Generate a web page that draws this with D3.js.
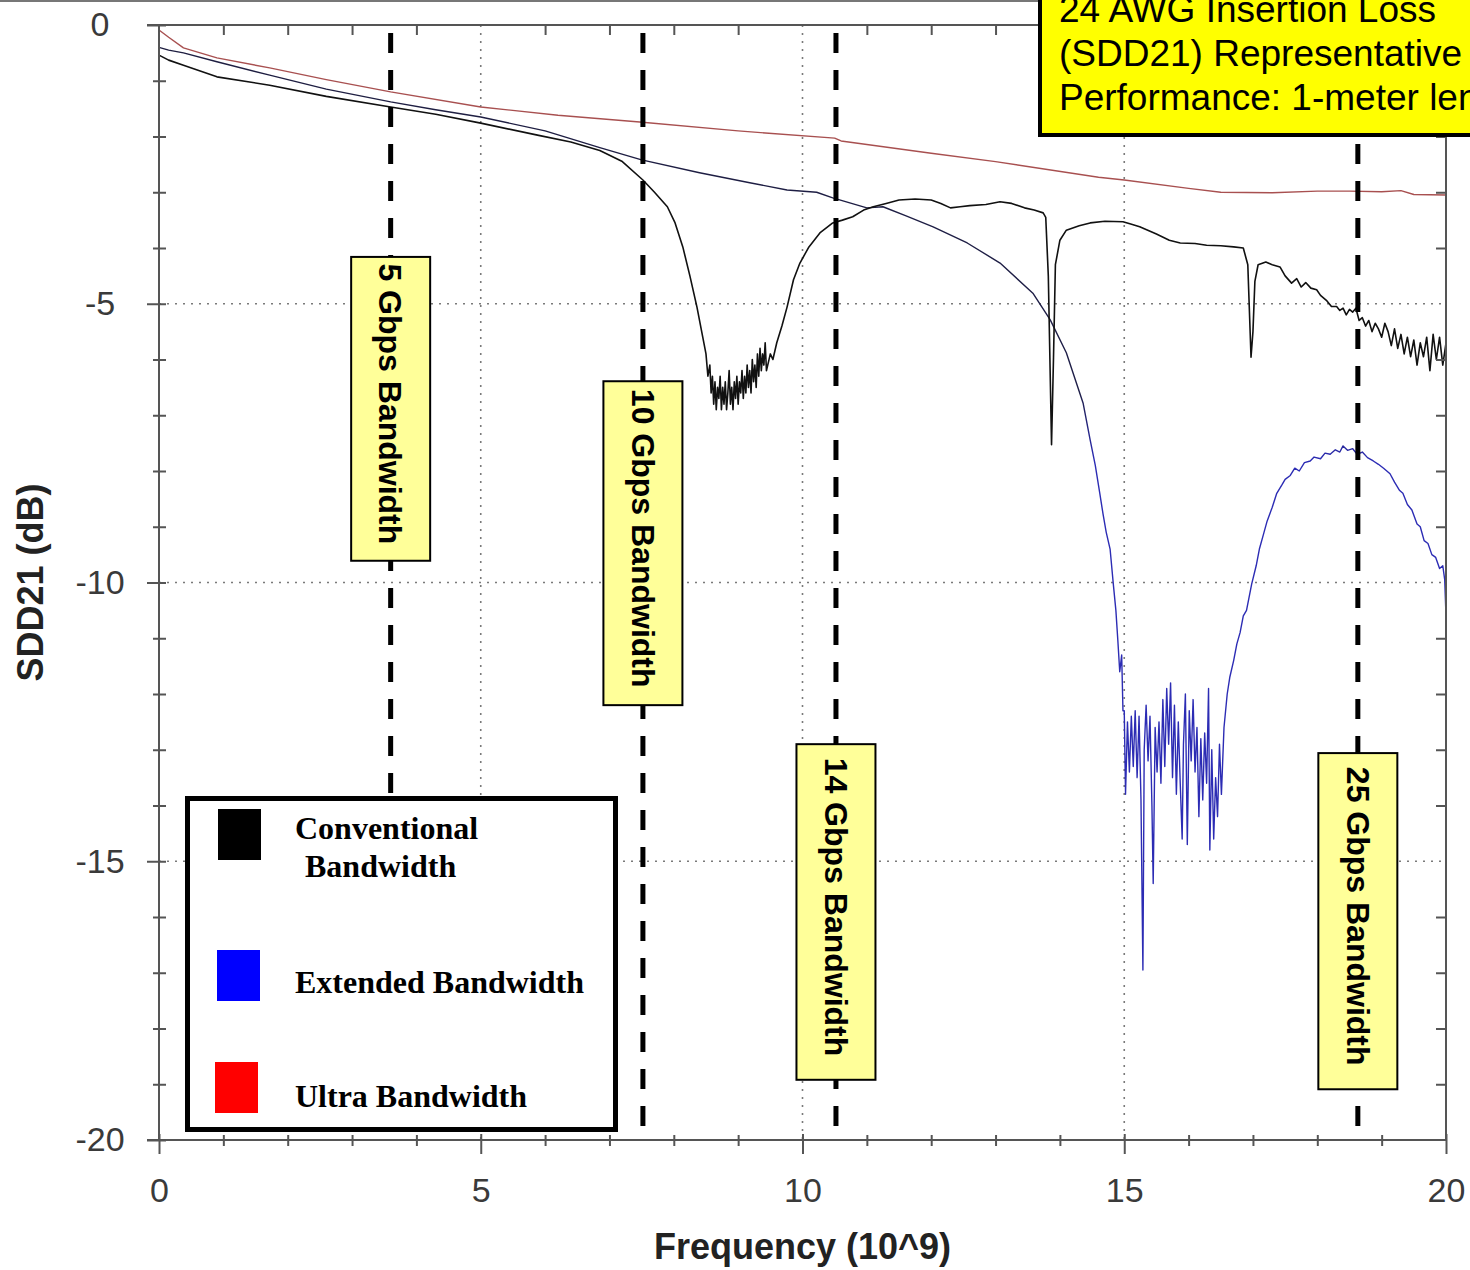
<!DOCTYPE html>
<html lang="en">
<head>
<meta charset="UTF-8">
<title>24 AWG Insertion Loss (SDD21)</title>
<script src="https://d3js.org/d3.v7.min.js"></script>
<style>
  body { margin: 0; background: #fff; }
  svg { display: block; background: #fff; }
  .axis .domain { display: none; }
  .axis line { stroke: #555; stroke-width: 2; }
  .grid line { stroke: #7a7a7a; stroke-width: 1.6; stroke-dasharray: 2 6; }
  .bw-line { stroke: #000; stroke-width: 5; stroke-dasharray: 20 17; }
  .bw-box { fill: #ffff99; stroke: #000; stroke-width: 2; }
  .bw-text { font-family: "Liberation Sans", Arial, sans-serif; font-weight: bold; font-size: 32px; fill: #000; }
  .legend-text { font-family: "Liberation Serif", "Times New Roman", serif; font-weight: bold; font-size: 32px; fill: #000; }
</style>
</head>
<body>
<svg id="chart" width="1470" height="1270"></svg>
<script>
// ---- data (frequency in GHz, SDD21 in dB) ----
const freqTicks = [0, 5, 10, 15, 20];
const freqMinorTicks = [1, 2, 3, 4, 6, 7, 8, 9, 11, 12, 13, 14, 16, 17, 18, 19];
const dbTicks = [0, -5, -10, -15, -20];
const dbMinorTicks = [-1, -2, -3, -4, -6, -7, -8, -9, -11, -12, -13, -14, -16, -17, -18, -19];

const ultra = [
  [0, -0.09], [0.15, -0.22], [0.38, -0.41], [0.9, -0.59], [1.72, -0.77], [2.6, -0.98],
  [3.6, -1.2], [5, -1.47], [6.2, -1.62], [7.47, -1.74], [9, -1.9], [10.5, -2.03],
  [10.6, -2.08], [12, -2.3], [13, -2.45], [14.6, -2.73], [15, -2.78], [16, -2.93],
  [16.5, -3.0], [17.3, -3.01], [18, -2.98], [18.5, -2.98], [19, -2.99], [19.3, -2.97],
  [19.5, -3.04], [20, -3.05]
];

const extended = [
  [0, -0.4], [0.15, -0.45], [0.38, -0.5], [0.9, -0.66], [1.72, -0.9], [2.6, -1.15],
  [3.6, -1.38], [4.3, -1.52], [5, -1.65], [6, -1.9], [6.85, -2.2], [7.5, -2.42],
  [8.4, -2.65], [9.18, -2.83], [9.76, -2.96], [10.22, -3.0], [10.47, -3.1], [11.0, -3.28],
  [11.25, -3.26], [11.6, -3.42], [12.03, -3.62], [12.56, -3.91], [13.07, -4.27],
  [13.58, -4.81], [13.85, -5.29], [14.1, -5.88], [14.36, -6.78], [14.47, -7.44],
  [14.55, -7.9], [14.62, -8.4], [14.67, -8.77], [14.72, -9.1], [14.78, -9.4],
  [14.83, -10.03], [14.87, -10.5], [14.9, -11.03], [14.93, -11.6], [14.96, -11.3],
  [14.98, -12.3],
  [15.00, -12.3], [15.02, -13.8], [15.05, -12.5], [15.08, -13.4], [15.11, -12.4],
  [15.14, -13.3], [15.17, -12.3], [15.20, -13.5], [15.23, -12.4], [15.26, -13.9],
  [15.29, -16.95], [15.31, -13.0], [15.34, -12.2], [15.37, -13.2], [15.40, -12.4],
  [15.43, -14.0], [15.45, -15.4], [15.48, -12.6], [15.51, -13.4], [15.54, -12.5],
  [15.57, -13.6], [15.60, -12.1], [15.63, -13.3], [15.66, -11.9], [15.69, -12.9],
  [15.72, -11.8], [15.75, -13.5], [15.78, -12.2], [15.81, -13.8], [15.84, -12.5],
  [15.87, -13.6], [15.90, -14.6], [15.92, -12.9], [15.95, -12.0], [15.98, -14.7],
  [16.01, -12.3], [16.04, -13.2], [16.07, -12.1], [16.10, -13.4], [16.13, -12.6],
  [16.16, -14.2], [16.19, -12.8], [16.22, -13.9], [16.25, -12.7], [16.28, -13.6],
  [16.31, -11.9], [16.33, -14.8], [16.36, -13.0], [16.39, -14.6], [16.42, -13.5],
  [16.45, -14.2], [16.48, -12.9], [16.51, -13.8], [16.55, -12.6], [16.60, -12.0],
  [16.64, -11.7], [16.70, -11.4], [16.75, -11.1], [16.80, -10.9], [16.85, -10.6],
  [16.90, -10.5], [16.98, -10.03], [17.05, -9.7], [17.10, -9.4], [17.16, -9.15],
  [17.22, -8.9], [17.30, -8.65], [17.37, -8.4], [17.45, -8.25], [17.50, -8.15],
  [17.58, -8.08], [17.65, -7.95], [17.72, -8.0], [17.80, -7.85], [17.89, -7.82],
  [17.95, -7.75], [18.05, -7.78], [18.12, -7.68], [18.20, -7.7], [18.28, -7.62],
  [18.35, -7.66], [18.40, -7.55], [18.47, -7.63], [18.55, -7.6], [18.62, -7.7],
  [18.70, -7.66], [18.78, -7.76], [18.87, -7.82], [18.95, -7.88], [19.03, -7.95],
  [19.13, -8.05], [19.20, -8.2], [19.28, -8.35], [19.33, -8.4], [19.40, -8.6],
  [19.47, -8.7], [19.55, -8.95], [19.60, -9.0], [19.66, -9.25], [19.72, -9.3],
  [19.78, -9.5], [19.84, -9.55], [19.90, -9.75], [19.95, -9.7], [19.98, -9.95],
  [20.00, -10.6]
];

const conventional = [
  [0, -0.54], [0.15, -0.63], [0.38, -0.72], [0.9, -0.93], [1.72, -1.08], [2.6, -1.28],
  [3.6, -1.47], [4.3, -1.6], [5, -1.76], [5.9, -1.98], [6.4, -2.1], [6.85, -2.25],
  [7.2, -2.45], [7.52, -2.78], [7.7, -3.0], [7.9, -3.26], [8.02, -3.55], [8.14, -3.98],
  [8.25, -4.5], [8.36, -5.06], [8.45, -5.6],
  [8.50, -5.9], [8.53, -6.3], [8.56, -6.1], [8.58, -6.6], [8.60, -6.3], [8.62, -6.8],
  [8.64, -6.4], [8.66, -6.9], [8.68, -6.5], [8.70, -6.7], [8.72, -6.3], [8.74, -6.9],
  [8.76, -6.5], [8.78, -6.8], [8.80, -6.4], [8.82, -6.9], [8.84, -6.6], [8.86, -6.2],
  [8.88, -6.8], [8.90, -6.5], [8.92, -6.9], [8.94, -6.4], [8.96, -6.7], [8.98, -6.3],
  [9.00, -6.8], [9.02, -6.4], [9.04, -6.6], [9.06, -6.2], [9.08, -6.7], [9.10, -6.3],
  [9.12, -6.6], [9.14, -6.1], [9.16, -6.5], [9.18, -6.2], [9.20, -6.6], [9.22, -6.0],
  [9.24, -6.4], [9.26, -6.1], [9.28, -6.5], [9.30, -5.9], [9.32, -6.3], [9.34, -5.8],
  [9.36, -6.2], [9.38, -5.9], [9.40, -6.1], [9.42, -5.7], [9.44, -6.2], [9.50, -5.9],
  [9.54, -6.0],
  [9.60, -5.7], [9.68, -5.4], [9.76, -5.06], [9.86, -4.57], [9.96, -4.27], [10.1, -3.98],
  [10.27, -3.73], [10.47, -3.55], [10.62, -3.5], [10.78, -3.44], [10.95, -3.32],
  [11.1, -3.26], [11.3, -3.2], [11.5, -3.14], [11.75, -3.12], [12.0, -3.14],
  [12.15, -3.2], [12.3, -3.28], [12.45, -3.26], [12.6, -3.24], [12.85, -3.22],
  [13.07, -3.17], [13.25, -3.2], [13.45, -3.28], [13.6, -3.32], [13.74, -3.37],
  [13.78, -3.45], [13.82, -4.5], [13.87, -7.53], [13.9, -6.0], [13.93, -4.3],
  [14.0, -3.86], [14.1, -3.68], [14.3, -3.6], [14.47, -3.55], [14.7, -3.52],
  [14.98, -3.53], [15.1, -3.57], [15.24, -3.62], [15.5, -3.75], [15.7, -3.86],
  [15.87, -3.91], [16.1, -3.92], [16.28, -3.95], [16.5, -3.96], [16.7, -3.98],
  [16.85, -4.0], [16.92, -4.3], [16.97, -5.96], [17.0, -5.5], [17.03, -4.6],
  [17.08, -4.3], [17.20, -4.25], [17.30, -4.3], [17.42, -4.34], [17.50, -4.5],
  [17.60, -4.63], [17.68, -4.55], [17.75, -4.7], [17.82, -4.62], [17.90, -4.72],
  [17.99, -4.75], [18.05, -4.85], [18.15, -4.95], [18.22, -5.05],
  [18.30, -5.05], [18.35, -5.12], [18.40, -5.08], [18.45, -5.2], [18.50, -5.1],
  [18.55, -5.15], [18.60, -5.08], [18.65, -5.3], [18.70, -5.25], [18.75, -5.4],
  [18.80, -5.3], [18.85, -5.5], [18.90, -5.35], [18.95, -5.45], [19.00, -5.6],
  [19.05, -5.35], [19.10, -5.5], [19.15, -5.75], [19.20, -5.45], [19.25, -5.8],
  [19.30, -5.55], [19.35, -5.9], [19.40, -5.6], [19.45, -5.95], [19.50, -5.65],
  [19.55, -6.1], [19.60, -5.7], [19.65, -5.95], [19.70, -5.6], [19.75, -6.2],
  [19.80, -5.55], [19.85, -6.0], [19.90, -5.6], [19.95, -6.1], [20.00, -5.7]
];

const bandwidthFreqs = [3.6, 7.52, 10.52, 18.63];
const bandwidthLabels = ["5 Gbps Bandwidth", "10 Gbps Bandwidth", "14 Gbps Bandwidth", "25 Gbps Bandwidth"];

const legendLabels = [["Conventional", " Bandwidth"], ["Extended Bandwidth"], ["Ultra Bandwidth"]];
const legendColors = ["#000000", "#0000ff", "#ff0000"];

const titleLines = ["24 AWG Insertion Loss", "(SDD21) Representative", "Performance: 1-meter length"];

// ---- layout ----
const svg = d3.select("#chart");
const x = d3.scaleLinear().domain([0, 20]).range([159, 1446]);
const y = d3.scaleLinear().domain([0, -20]).range([25, 1140]);

// label box spans in dB (top, bottom), box width in px
const labelSpans = [[-4.16, -9.61], [-6.39, -12.2], [-12.9, -18.92], [-13.06, -19.09]];
const boxW = 79;

// thin grey rule at the very top of the slide
svg.append("line").attr("x1", 0).attr("x2", 1040).attr("y1", 1).attr("y2", 1)
   .attr("stroke", "#777").attr("stroke-width", 2);

// gridlines
const grid = svg.append("g").attr("class", "grid");
grid.selectAll("line.v").data(freqTicks.slice(1, -1)).join("line").attr("class", "v")
    .attr("x1", d => x(d)).attr("x2", d => x(d)).attr("y1", y(0)).attr("y2", y(-20));
grid.selectAll("line.h").data(dbTicks.slice(1, -1)).join("line").attr("class", "h")
    .attr("x1", x(0)).attr("x2", x(20)).attr("y1", d => y(d)).attr("y2", d => y(d));

// curves
const defs = svg.append("defs");
const grad = defs.append("linearGradient").attr("id", "extGrad")
    .attr("gradientUnits", "userSpaceOnUse").attr("x1", 0).attr("x2", 0)
    .attr("y1", y(0)).attr("y2", y(-20));
grad.append("stop").attr("offset", 0).attr("stop-color", "#1e1e40");
grad.append("stop").attr("offset", 0.33).attr("stop-color", "#1e1e48");
grad.append("stop").attr("offset", 0.39).attr("stop-color", "#2c2cb4");
grad.append("stop").attr("offset", 1).attr("stop-color", "#2c2cb4");

const line = d3.line().x(d => x(d[0])).y(d => y(d[1]));
const curves = svg.append("g").attr("fill", "none").attr("stroke-linejoin", "round");
curves.append("path").datum(ultra).attr("d", line).attr("stroke", "#a85050").attr("stroke-width", 1.4);
curves.append("path").datum(extended).attr("d", line).attr("stroke", "url(#extGrad)").attr("stroke-width", 1.4);
curves.append("path").datum(conventional).attr("d", line).attr("stroke", "#111").attr("stroke-width", 1.6);

// dashed bandwidth markers
svg.append("g").selectAll("line").data(bandwidthFreqs).join("line").attr("class", "bw-line")
   .attr("x1", d => x(d)).attr("x2", d => x(d)).attr("y1", y(0) + 8).attr("y2", y(-20) - 4);

// frame
const frame = svg.append("g").attr("stroke", "#555").attr("stroke-width", 2).attr("fill", "none");
frame.append("path").attr("d", `M${x(0) - 12},${y(0)}H${x(20)}V${y(-20)}H${x(0) - 12}`);
frame.append("path").attr("d", `M${x(0)},${y(0)}V${y(-20)}`);

// ticks (plain hyphen minus, as on the original)
const plain = d => String(d);
const axisFont = g => g.attr("font-family", "'Liberation Sans', Arial, sans-serif")
                       .attr("font-size", 34).selectAll("text").attr("fill", "#3a3a3a");

svg.append("g").attr("class", "axis").attr("transform", `translate(0,${y(-20) - 6})`)
   .call(d3.axisBottom(x).tickValues(freqTicks).tickSize(20).tickPadding(24).tickFormat(plain))
   .call(axisFont);
svg.append("g").attr("class", "axis").attr("transform", `translate(0,${y(-20) - 5})`)
   .call(d3.axisBottom(x).tickValues(freqMinorTicks).tickSize(11).tickFormat(""));
svg.append("g").attr("class", "axis").attr("transform", `translate(0,${y(0)})`)
   .call(d3.axisTop(x).tickValues(freqMinorTicks).tickSize(-10).tickFormat(""));

const leftAxis = svg.append("g").attr("class", "axis").attr("transform", `translate(${x(0) + 7},0)`)
   .call(d3.axisLeft(y).tickValues(dbTicks).tickSize(19).tickFormat(plain))
   .call(axisFont);
leftAxis.selectAll("text").attr("text-anchor", "middle").attr("x", -66);
svg.append("g").attr("class", "axis").attr("transform", `translate(${x(0) + 7},0)`)
   .call(d3.axisLeft(y).tickValues(dbMinorTicks).tickSize(13).tickFormat(""));
svg.append("g").attr("class", "axis").attr("transform", `translate(${x(20)},0)`)
   .call(d3.axisRight(y).tickValues(dbMinorTicks).tickSize(-10).tickFormat(""));

// axis titles
svg.append("text").attr("x", x(10)).attr("y", 1259).attr("text-anchor", "middle")
   .attr("font-family", "'Liberation Sans', Arial, sans-serif").attr("font-weight", "bold")
   .attr("font-size", 36).attr("fill", "#222").text("Frequency (10^9)");
svg.append("text").attr("transform", `translate(43,${y(-10)}) rotate(-90)`).attr("text-anchor", "middle")
   .attr("font-family", "'Liberation Sans', Arial, sans-serif").attr("font-weight", "bold")
   .attr("font-size", 36).attr("fill", "#222").text("SDD21 (dB)");

// yellow bandwidth labels
const bw = svg.append("g").selectAll("g").data(bandwidthLabels).join("g");
bw.append("rect").attr("class", "bw-box")
  .attr("x", (d, i) => x(bandwidthFreqs[i]) - boxW / 2)
  .attr("y", (d, i) => y(labelSpans[i][0]))
  .attr("width", boxW)
  .attr("height", (d, i) => y(labelSpans[i][1]) - y(labelSpans[i][0]));
bw.append("text").attr("class", "bw-text").attr("text-anchor", "middle").attr("dy", "0.35em")
  .attr("transform", (d, i) => `translate(${x(bandwidthFreqs[i])},${(y(labelSpans[i][0]) + y(labelSpans[i][1])) / 2 - 5}) rotate(90)`)
  .text(d => d);

// legend
const legend = svg.append("g");
legend.append("rect").attr("x", 187.5).attr("y", 798.5).attr("width", 428).attr("height", 331)
      .attr("fill", "#fff").attr("stroke", "#000").attr("stroke-width", 5);
const swatches = [[218, 809], [217, 950], [215, 1062]];
const labelBase = [839, 993, 1107];
legend.selectAll("rect.sw").data(legendColors).join("rect").attr("class", "sw")
      .attr("x", (d, i) => swatches[i][0]).attr("y", (d, i) => swatches[i][1])
      .attr("width", 43).attr("height", 51).attr("fill", d => d);
legend.selectAll("text").data(legendLabels).join("text").attr("class", "legend-text")
      .attr("x", 295).attr("y", (d, i) => labelBase[i])
      .each(function (d) {
        d3.select(this).selectAll("tspan").data(d).join("tspan")
          .attr("x", (t, j) => j === 0 ? 295 : 297)
          .attr("dy", (t, j) => j === 0 ? 0 : 38)
          .attr("xml:space", "preserve")
          .text(t => t);
      });

// title box (runs off the top and right edges, as on the original slide)
const title = svg.append("g");
title.append("rect").attr("x", 1040).attr("y", -10).attr("width", 500).attr("height", 145)
     .attr("fill", "#ffff00").attr("stroke", "#000").attr("stroke-width", 4);
title.selectAll("text").data(titleLines).join("text")
     .attr("x", 1059).attr("y", (d, i) => 22 + i * 44)
     .attr("font-family", "'Liberation Sans', Arial, sans-serif").attr("font-size", 37)
     .attr("fill", "#000").text(d => d);
</script>
</body>
</html>
